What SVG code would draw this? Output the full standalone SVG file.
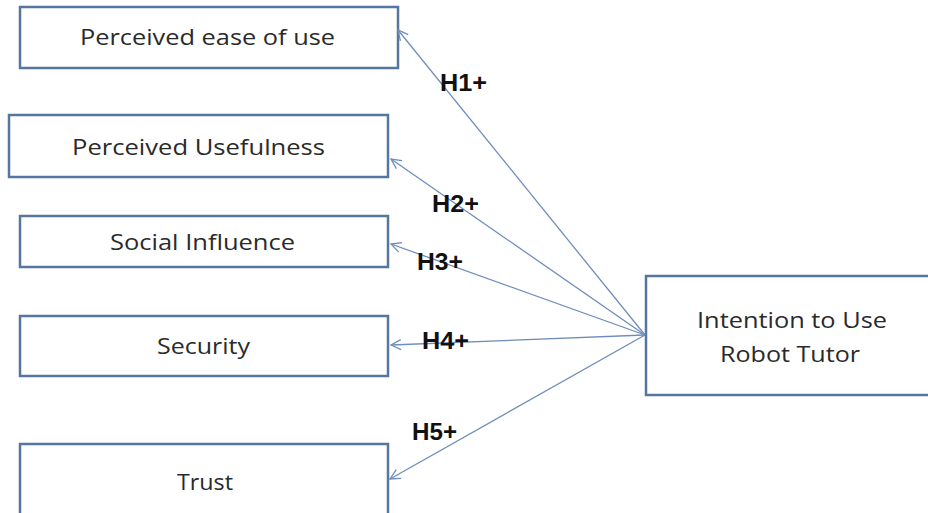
<svg xmlns="http://www.w3.org/2000/svg" width="928" height="513" viewBox="0 0 928 513">
  <style>
    .box { fill: #ffffff; stroke: #55779f; stroke-width: 2.5; }
    .lbl { font-family: "Open Sans", "Liberation Sans", Arial, sans-serif; font-size: 22px; fill: #2a2a2a; text-anchor: middle; }
    .hyp { font-family: "Liberation Sans", Arial, sans-serif; font-size: 23px; font-weight: bold; fill: #111111; }
    .edge { stroke: #6e8dbb; stroke-width: 1.3; fill: none; marker-end: url(#arr); }
  </style>
  <defs>
    <marker id="arr" markerUnits="userSpaceOnUse" markerWidth="14" markerHeight="14" refX="11" refY="6" orient="auto">
      <path d="M1,1 L11,6 L1,11" fill="none" stroke="#6e8dbb" stroke-width="1.3"/>
    </marker>
  </defs>
  <rect width="928" height="513" fill="#ffffff"/>

  <g id="peou">
    <rect class="box" x="20" y="7" width="378" height="61"/>
    <text class="lbl" x="207.5" y="45" textLength="255" lengthAdjust="spacingAndGlyphs">Perceived ease of use</text>
  </g>
  <g id="pu">
    <rect class="box" x="9" y="115" width="379" height="62"/>
    <text class="lbl" x="198.5" y="155" textLength="253" lengthAdjust="spacingAndGlyphs">Perceived Usefulness</text>
  </g>
  <g id="si">
    <rect class="box" x="20" y="216" width="368" height="51"/>
    <text class="lbl" x="202.5" y="250" textLength="185" lengthAdjust="spacingAndGlyphs">Social Influence</text>
  </g>
  <g id="sec">
    <rect class="box" x="20" y="316" width="368" height="60"/>
    <text class="lbl" x="203.5" y="354" textLength="93" lengthAdjust="spacingAndGlyphs">Security</text>
  </g>
  <g id="trust">
    <rect class="box" x="20" y="444" width="368" height="80"/>
    <text class="lbl" x="205" y="490" textLength="56" lengthAdjust="spacingAndGlyphs">Trust</text>
  </g>
  <g id="itu">
    <rect class="box" x="646" y="276" width="300" height="119"/>
    <text class="lbl" x="792" y="328" textLength="190" lengthAdjust="spacingAndGlyphs">Intention to Use</text>
    <text class="lbl" x="790" y="362" textLength="140" lengthAdjust="spacingAndGlyphs">Robot Tutor</text>
  </g>

  <g id="connectors">
    <line class="edge" x1="645" y1="335" x2="398" y2="30"/>
    <line class="edge" x1="645" y1="335" x2="391" y2="159"/>
    <line class="edge" x1="645" y1="335" x2="391" y2="244"/>
    <line class="edge" x1="645" y1="335" x2="391" y2="345"/>
    <line class="edge" x1="645" y1="335" x2="390" y2="479"/>
    <text class="hyp" x="440" y="91" textLength="47" lengthAdjust="spacingAndGlyphs">H1+</text>
    <text class="hyp" x="432" y="212" textLength="47" lengthAdjust="spacingAndGlyphs">H2+</text>
    <text class="hyp" x="417" y="270" textLength="46" lengthAdjust="spacingAndGlyphs">H3+</text>
    <text class="hyp" x="422" y="349" textLength="47" lengthAdjust="spacingAndGlyphs">H4+</text>
    <text class="hyp" x="412" y="440" textLength="45" lengthAdjust="spacingAndGlyphs">H5+</text>
  </g>
</svg>
